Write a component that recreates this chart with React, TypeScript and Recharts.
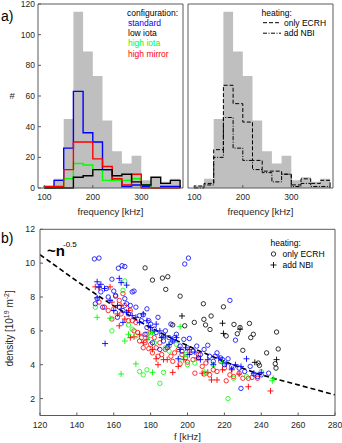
import React from 'react';
import { ComposedChart, Area, Line, Scatter, XAxis, YAxis, Label } from 'recharts';

// ---- histogram data (bins of 20 kHz) ----
const binEdges = [100, 120, 140, 160, 180, 200, 220, 240, 260, 280, 300, 320, 340, 360, 380];
const totalCounts = [1.5, 6, 45, 115, 89, 73, 44, 24, 16, 21, 5, 7, 4, 6];
const standardCounts = [0, 5, 26, 63, 36, 30, 12, 5, 1, 2, 1, 0, 1, 1];
const lowIotaCounts = [0, 0, 0, 7, 8, 12, 12, 8, 9, 4, 2, 7, 3, 5];
const highIotaCounts = [0, 0, 6, 16, 15, 12, 5, 5, 5, 6, 2, 0, 0, 0];
const highMirrorCounts = [1, 1, 12, 30, 30, 19, 14, 6, 2, 9, 0, 0, 0, 0];
const onlyEcrhCounts = [1.3, 3, 25, 67, 55, 43, 18, 11, 11, 9, 2, 6, 3, 5];
const addNbiCounts = [0, 2, 20, 46, 26, 18, 12, 10, 4, 9, 1, 3, 1, 1];

const freqTicks = [100, 200, 300];
const countTicks = [0, 20, 40, 60, 80, 100, 120];

// ---- scatter data: [f kHz, density 1e19 m^-2] ----
const blueRings: [number, number][] = [
  [149.5, 10.25], [152, 10.3], [162.5, 9.7], [164.5, 9.85], [166, 9.8], [198.5, 9.95], [200.5, 10.3], [223, 7.8],
  [150, 7.6], [151, 7.9], [153, 8.3], [154, 7.4], [156, 8.5], [157, 8.0], [159, 9.05], [160, 8.35], [161, 8.05],
  [162, 6.8], [163, 7.4], [165, 7.2], [166, 7.9], [167, 7.6], [168, 7.0], [169, 7.5], [170, 8.3], [171, 8.35],
  [172, 7.4], [174, 6.9], [175, 6.6], [176, 6.95], [177, 5.8], [178, 7.3], [178, 6.2], [179, 6.6], [180, 6.4],
  [181, 5.3], [182, 6.1], [183, 5.9], [184, 6.8], [185, 4.9], [186, 5.75], [187, 5.4], [188, 6.0], [189, 5.0],
  [190, 5.6], [191, 6.4], [192, 5.4], [193, 5.6], [194, 5.8], [196, 5.1], [197, 4.8], [198, 5.5], [200, 5.0],
  [201, 5.55], [203, 4.8], [205, 5.1], [206, 4.4], [207, 4.6], [209, 4.9], [211, 5.15], [212, 4.5], [214, 4.2],
  [215, 4.5], [216, 4.7], [218, 4.4], [219, 4.3], [220, 4.0], [222, 4.35], [224, 3.9], [226, 5.45], [228, 3.8],
  [229, 2.6], [231, 3.6], [234, 3.9], [236, 3.45], [238, 3.3], [240, 3.4], [244, 3.5],
];
const bluePluses: [number, number][] = [
  [151, 8.9], [152, 8.6], [153, 8.75], [155, 8.5], [163, 9.1], [164, 8.85], [167, 8.7], [151, 7.95], [158, 7.8],
  [160, 7.2], [162, 7.5], [165, 6.5], [167, 7.1], [170, 6.9], [172, 6.8], [174, 6.5], [176, 7.0], [178, 6.6],
  [180, 6.2], [183, 6.4], [185, 6.0], [186, 5.6], [188, 5.7], [190, 5.2], [192, 5.4], [194, 5.6], [196, 4.9],
  [199, 5.0], [201, 4.6], [204, 4.75], [207, 4.3], [211, 4.3], [214, 4.0], [217, 4.4], [221, 4.05], [224, 3.75],
  [226, 4.0], [229, 3.9], [232, 4.35], [236, 3.5], [240, 3.55], [155.3, 5.25], [195, 4.35],
];
const redRings: [number, number][] = [
  [152, 7.7], [155, 7.4], [157, 7.2], [159, 6.7], [160, 7.3], [161, 8.1], [163, 7.8], [164, 7.0], [165, 8.2],
  [166, 7.5], [168, 6.6], [169, 7.2], [170, 6.6], [171, 6.0], [172, 6.5], [173, 5.9], [174, 5.4], [175, 5.6],
  [176, 5.0], [177, 5.3], [178, 5.8], [179, 4.95], [180, 5.2], [181, 4.7], [182, 5.6], [183, 5.0], [184, 4.5],
  [185, 5.3], [186, 4.6], [188, 4.9], [190, 5.1], [191, 4.5], [192, 4.2], [193, 4.7], [195, 4.9], [196, 4.05],
  [197, 4.6], [199, 4.4], [200, 4.15], [201, 4.8], [203, 4.3], [204, 3.5], [206, 4.6], [208, 3.9], [209, 3.45],
  [210, 4.1], [212, 3.4], [214, 3.7], [216, 3.6], [218, 4.2], [220, 3.8], [221, 3.05], [223, 3.4], [225, 3.3],
  [228, 3.5], [230, 3.2], [233, 3.2], [235, 3.25], [238, 3.2],
];
const redPluses: [number, number][] = [
  [150, 8.6], [152, 8.55], [158, 8.6], [159, 7.7], [162, 7.0], [164, 7.5], [166, 6.7], [168, 7.2], [163, 6.3],
  [169, 5.6], [171, 5.65], [174, 5.8], [176, 5.3], [178, 5.5], [180, 6.0], [181, 4.9], [183, 4.35], [184, 4.0],
  [187, 4.3], [189, 4.3], [192, 3.55], [195, 3.9], [198, 4.3], [201, 4.9], [205, 4.4], [208, 3.5], [211, 3.55],
  [213, 3.1], [216, 3.1], [219, 3.7], [224, 3.7], [228, 3.45], [233, 2.7], [245, 2.45],
];
const greenRings: [number, number][] = [
  [150, 7.4], [159, 6.0], [165, 8.4], [166, 8.95], [168, 6.35], [170, 6.1], [172, 5.7], [174, 3.6], [176, 3.4],
  [178, 3.7], [180, 5.9], [182, 5.3], [185, 2.9], [187, 3.55], [188, 5.0], [190, 4.8], [194, 5.2], [196, 4.4],
  [199, 4.6], [200, 4.0], [204, 4.1], [210, 3.5], [214, 4.0], [222, 2.0], [225, 3.2], [232, 3.3], [240, 3.6],
];
const greenPluses: [number, number][] = [
  [151, 6.8], [158, 6.75], [164, 3.45], [166, 5.4], [168, 5.8], [172, 4.05], [179, 5.6], [181, 3.55], [181, 5.9],
  [186, 5.6], [190, 5.2], [196, 6.25], [200, 4.6], [209, 3.6], [219, 4.15], [246, 3.05], [246.5, 3.2],
];
const blackRings: [number, number][] = [
  [177, 9.72], [181, 9.0], [186.4, 9.12], [189.3, 9.2], [188.2, 8.45], [196, 8.05], [208.6, 7.6], [203.7, 6.5],
  [208.9, 6.68], [209.8, 6.35], [212.8, 6.88], [212.2, 6.08], [219.5, 7.42], [225.2, 6.38], [227, 5.83],
  [228.5, 6.2], [233.6, 6.44], [234.3, 5.6], [235.7, 5.8], [230, 4.85], [242.9, 4.7], [248.3, 5.93],
  [249.2, 4.93], [247.6, 4.06], [248, 3.8], [238.4, 4.1], [239, 3.96], [198.5, 6.3], [192, 6.35], [221, 5.7],
];
const blackPluses: [number, number][] = [
  [197, 6.88], [219, 6.45], [219.5, 5.85], [228.5, 6.1], [236.5, 4.14], [248.3, 4.3],
];
// dashed ~n^-0.5 guide
const guideCurve: [number, number][] = [
  [120, 10.5], [130, 9.72], [140, 8.94], [160, 7.48], [180, 6.19], [200, 5.13], [220, 4.2], [240, 3.41], [260, 2.81], [280, 2.22],
];

const fTicks = [120, 140, 160, 180, 200, 220, 240, 260, 280];
const nTicks = [2, 4, 6, 8, 10, 12];

const FONT = '"Liberation Sans", Arial, Helvetica, sans-serif';
const INK = '#262626';
const FRAME = '#5a5a5a';
const BLUE = '#0000ff';
const RED = '#ff0000';
const GREEN = '#00ff00';
const freqDomain: [number, number] = [87, 386];
const tickStyle = { fontSize: 8.5, fill: INK };

const zeroRow = (x: number) => ({
  x, total: 0, standard: 0, lowIota: 0, highIota: 0, highMirror: 0, onlyEcrh: 0, addNbi: 0,
});

const histRows = [
  zeroRow(binEdges[0]),
  ...totalCounts.map((v, i) => ({
    x: binEdges[i],
    total: v,
    standard: standardCounts[i],
    lowIota: lowIotaCounts[i],
    highIota: highIotaCounts[i],
    highMirror: highMirrorCounts[i],
    onlyEcrh: onlyEcrhCounts[i],
    addNbi: addNbiCounts[i],
  })),
  zeroRow(binEdges[binEdges.length - 1]),
];

const toPoints = (arr: [number, number][]) => arr.map(([f, n]) => ({ f, n }));

const ring = (color: string) => (p: any) => (
  <circle cx={p.cx} cy={p.cy} r={2.2} fill="none" stroke={color} strokeWidth={0.8} />
);
const plus = (color: string) => (p: any) => (
  <path d={`M${p.cx - 3},${p.cy}H${p.cx + 3}M${p.cx},${p.cy - 3}V${p.cy + 3}`} stroke={color} strokeWidth={0.9} />
);

function DensityLabel(props: any) {
  const vb = props.viewBox || { x: 0, y: 0, height: 186 };
  const x = vb.x + 13;
  const y = vb.y + vb.height / 2 + 6;
  return (
    <text x={x} y={y} transform={`rotate(-90 ${x} ${y})`} textAnchor="middle" fontSize={10} fill={INK}>
      density [10<tspan dy={-4} fontSize={7}>19</tspan>
      <tspan dy={4}> m</tspan>
      <tspan dy={-4} fontSize={7}>-2</tspan>
      <tspan dy={4}>]</tspan>
    </text>
  );
}

// box axes: top and right axes need a non-zero size or recharts skips them
const histAxes = (showLabels: boolean, leftWidth: number) => [
  <XAxis key="xb" dataKey="x" type="number" domain={freqDomain} ticks={freqTicks} allowDataOverflow interval={0}
    tickSize={-3} tickMargin={9.3} height={30} stroke={FRAME} tick={tickStyle}>
    <Label value="frequency [kHz]" position="insideBottom" offset={3} fontSize={9.5} fill={INK} />
  </XAxis>,
  <XAxis key="xt" xAxisId="top" orientation="top" type="number" domain={freqDomain} ticks={freqTicks}
    allowDataOverflow tickSize={-3} height={1} tick={false} stroke={FRAME} />,
  <YAxis key="yl" type="number" domain={[0, 120]} ticks={countTicks} interval={0} tickSize={-3} tickMargin={6}
    width={leftWidth} stroke={FRAME} tick={showLabels ? tickStyle : false}>
    {showLabels && <Label value="#" position="insideLeft" offset={9.6} fontSize={9.5} fill={INK} />}
  </YAxis>,
  <YAxis key="yr" yAxisId="right" orientation="right" type="number" domain={[0, 120]} ticks={countTicks}
    tickSize={-3} width={1} tick={false} stroke={FRAME} />,
];

function ConfigHistogram() {
  return (
    <ComposedChart width={186} height={218} data={histRows} margin={{ top: 3, right: 2, bottom: 0, left: 0 }}>
      {histAxes(true, 38)}
      <Area dataKey="total" type="stepAfter" fill="#bfbfbf" fillOpacity={1} stroke="none" dot={false} activeDot={false} isAnimationActive={false} />
      <Line dataKey="standard" type="stepAfter" stroke={BLUE} strokeWidth={1.4} dot={false} isAnimationActive={false} />
      <Line dataKey="highIota" type="stepAfter" stroke={GREEN} strokeWidth={1.4} dot={false} isAnimationActive={false} />
      <Line dataKey="highMirror" type="stepAfter" stroke={RED} strokeWidth={1.4} dot={false} isAnimationActive={false} />
      <Line dataKey="lowIota" type="stepAfter" stroke="#000" strokeWidth={1.4} dot={false} isAnimationActive={false} />
    </ComposedChart>
  );
}

function HeatingHistogram() {
  return (
    <ComposedChart width={154} height={218} data={histRows} margin={{ top: 3, right: 6, bottom: 0, left: 0 }}>
      {histAxes(false, 2)}
      <Area dataKey="total" type="stepAfter" fill="#bfbfbf" fillOpacity={1} stroke="none" dot={false} activeDot={false} isAnimationActive={false} />
      <Line dataKey="onlyEcrh" type="stepAfter" stroke="#000" strokeWidth={1} strokeDasharray="4 2" dot={false} isAnimationActive={false} />
      <Line dataKey="addNbi" type="stepAfter" stroke="#000" strokeWidth={1} strokeDasharray="4 1.5 1 1.5" dot={false} isAnimationActive={false} />
    </ComposedChart>
  );
}

function DensityScatter() {
  return (
    <ComposedChart width={342} height={223} margin={{ top: 8.3, right: 6, bottom: 0, left: 0 }}>
      <XAxis dataKey="f" type="number" domain={[120, 280]} ticks={fTicks} allowDataOverflow interval={0}
        tickSize={-3} tickMargin={9.3} height={27.5} stroke={FRAME} tick={{ fontSize: 8.7, fill: INK }}>
        <Label value="f [kHz]" position="insideBottom" offset={3} fontSize={9.5} fill={INK} />
      </XAxis>
      <XAxis xAxisId="top" orientation="top" type="number" domain={[120, 280]} ticks={fTicks} allowDataOverflow
        tickSize={-3} height={1} tick={false} stroke={FRAME} />
      <YAxis dataKey="n" type="number" domain={[1, 12]} ticks={nTicks} allowDataOverflow interval={0}
        tickSize={-3} tickMargin={8} width={40} stroke={FRAME} tick={{ fontSize: 8.7, fill: INK }}>
        <Label content={<DensityLabel />} />
      </YAxis>
      <YAxis yAxisId="right" orientation="right" type="number" domain={[1, 12]} ticks={nTicks}
        tickSize={-3} width={1} tick={false} stroke={FRAME} />
      <Scatter data={toPoints(redRings)} dataKey="n" shape={ring(RED)} isAnimationActive={false} />
      <Scatter data={toPoints(redPluses)} dataKey="n" shape={plus(RED)} isAnimationActive={false} />
      <Scatter data={toPoints(greenRings)} dataKey="n" shape={ring(GREEN)} isAnimationActive={false} />
      <Scatter data={toPoints(greenPluses)} dataKey="n" shape={plus(GREEN)} isAnimationActive={false} />
      <Scatter data={toPoints(blueRings)} dataKey="n" shape={ring(BLUE)} isAnimationActive={false} />
      <Scatter data={toPoints(bluePluses)} dataKey="n" shape={plus(BLUE)} isAnimationActive={false} />
      <Scatter data={toPoints(blackRings)} dataKey="n" shape={ring('#000')} isAnimationActive={false} />
      <Scatter data={toPoints(blackPluses)} dataKey="n" shape={plus('#000')} isAnimationActive={false} />
      <Line data={toPoints(guideCurve)} dataKey="n" type="monotone" stroke="#000" strokeWidth={1.6}
        strokeDasharray="5 3" dot={false} isAnimationActive={false} />
    </ComposedChart>
  );
}

export default function App() {
  return (
    <div style={{ position: 'absolute', left: 0, top: 0, width: 342, height: 443, background: '#fff', fontFamily: FONT }}>
      <div style={{ position: 'absolute', left: 0, top: 0 }}>
        <ConfigHistogram />
      </div>
      <div style={{ position: 'absolute', left: 186, top: 0 }}>
        <HeatingHistogram />
      </div>
      <div style={{ position: 'absolute', left: 0, top: 220 }}>
        <DensityScatter />
      </div>
      <svg width={342} height={443} style={{ position: 'absolute', left: 0, top: 0, pointerEvents: 'none' }}
        fontFamily={FONT}>
        <text x={1} y={21} fontSize={14} fill="#000">a)</text>
        <text x={1} y={243} fontSize={14} fill="#000">b)</text>

        <g fontSize={8.5}>
          <text x={127} y={15.5} fill="#000">configuration:</text>
          <text x={128} y={25.8} fill={BLUE}>standard</text>
          <text x={128} y={36.2} fill="#000">low iota</text>
          <text x={128} y={46.4} fill={GREEN}>high iota</text>
          <text x={128} y={56.8} fill={RED}>high mirror</text>

          <text x={261.5} y={15.5} fill="#000">heating:</text>
          <line x1={263} x2={281} y1={22.7} y2={22.7} stroke="#000" strokeDasharray="4 2" />
          <text x={284} y={25.8} fill="#000">only ECRH</text>
          <line x1={263} x2={281} y1={33.2} y2={33.2} stroke="#000" strokeDasharray="4 1.5 1 1.5" />
          <text x={284} y={36.2} fill="#000">add NBI</text>

          <text x={270.5} y={246.3} fill="#000">heating:</text>
          <circle cx={273.5} cy={254} r={2.2} fill="none" stroke="#000" strokeWidth={0.8} />
          <text x={282.5} y={257} fill="#000">only ECRH</text>
          <path d="M270.5,265H276.5M273.5,262V268" stroke="#000" strokeWidth={0.9} />
          <text x={282.5} y={268} fill="#000">add NBI</text>
        </g>

        <text x={47} y={256} fontSize={15} fontWeight="bold" fill="#000">~n</text>
        <text x={63} y={246.5} fontSize={8} fill="#000">-0.5</text>
      </svg>
    </div>
  );
}
